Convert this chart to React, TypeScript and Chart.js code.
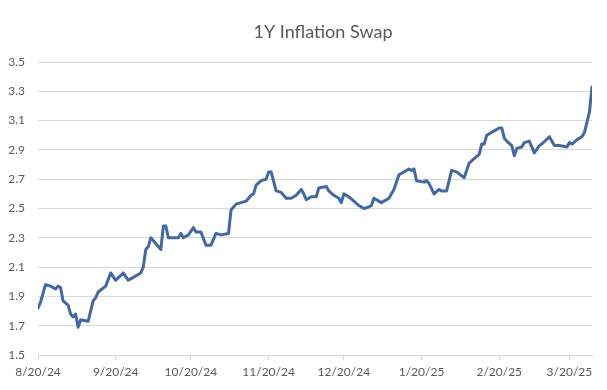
import React, { useEffect, useRef } from "react";
import { Chart, registerables } from "chart.js";

Chart.register(...registerables);

const TITLE = "1Y Inflation Swap";

const DATES = [
  "8/20/24", "8/21/24", "8/23/24", "8/25/24", "8/27/24", "8/28/24", "8/29/24", "8/30/24",
  "9/1/24", "9/2/24", "9/3/24", "9/4/24", "9/5/24", "9/6/24", "9/9/24", "9/11/24", "9/12/24",
  "9/13/24", "9/16/24", "9/18/24", "9/20/24", "9/23/24", "9/25/24", "9/27/24", "9/30/24",
  "10/1/24", "10/2/24", "10/3/24", "10/4/24", "10/8/24", "10/9/24", "10/10/24", "10/11/24",
  "10/15/24", "10/16/24", "10/17/24", "10/19/24", "10/21/24", "10/22/24", "10/24/24",
  "10/26/24", "10/28/24", "10/30/24", "11/1/24", "11/4/24", "11/5/24", "11/7/24", "11/9/24",
  "11/11/24", "11/13/24", "11/14/24", "11/15/24", "11/17/24", "11/19/24", "11/20/24",
  "11/21/24", "11/23/24", "11/25/24", "11/27/24", "11/29/24", "12/1/24", "12/3/24", "12/4/24",
  "12/5/24", "12/7/24", "12/9/24", "12/10/24", "12/13/24", "12/14/24", "12/16/24", "12/18/24",
  "12/19/24", "12/20/24", "12/22/24", "12/24/24", "12/26/24", "12/28/24", "12/30/24",
  "12/31/24", "1/1/25", "1/4/25", "1/7/25", "1/8/25", "1/9/25", "1/11/25", "1/13/25",
  "1/15/25", "1/16/25", "1/17/25", "1/18/25", "1/21/25", "1/22/25", "1/23/25", "1/25/25",
  "1/27/25", "1/28/25", "1/30/25", "2/1/25", "2/3/25", "2/6/25", "2/8/25", "2/10/25",
  "2/12/25", "2/13/25", "2/14/25", "2/15/25", "2/18/25", "2/20/25", "2/21/25", "2/22/25",
  "2/23/25", "2/25/25", "2/26/25", "2/27/25", "3/1/25", "3/2/25", "3/4/25", "3/6/25",
  "3/8/25", "3/9/25", "3/12/25", "3/14/25", "3/16/25", "3/19/25", "3/20/25", "3/21/25",
  "3/23/25", "3/25/25", "3/26/25", "3/27/25", "3/28/25", "3/29/25",
];

const VALUES = [
  1.82, 1.86, 1.98, 1.97, 1.95, 1.97, 1.96, 1.87,
  1.84, 1.78, 1.76, 1.78, 1.69, 1.74, 1.73, 1.87, 1.89,
  1.93, 1.97, 2.06, 2.01, 2.06, 2.01, 2.03, 2.06,
  2.10, 2.22, 2.24, 2.30, 2.22, 2.38, 2.38, 2.30,
  2.30, 2.33, 2.30, 2.32, 2.37, 2.34, 2.34,
  2.25, 2.25, 2.33, 2.32, 2.33, 2.49, 2.53, 2.54,
  2.55, 2.59, 2.60, 2.66, 2.69, 2.70, 2.75,
  2.75, 2.62, 2.61, 2.57, 2.57, 2.59, 2.63, 2.60,
  2.56, 2.58, 2.58, 2.64, 2.65, 2.62, 2.59, 2.57,
  2.54, 2.60, 2.58, 2.55, 2.52, 2.50, 2.51,
  2.52, 2.57, 2.54, 2.57, 2.60, 2.63, 2.73, 2.75,
  2.77, 2.76, 2.77, 2.69, 2.68, 2.69, 2.67, 2.60,
  2.63, 2.62, 2.62, 2.76, 2.75, 2.71, 2.81, 2.84,
  2.87, 2.94, 2.94, 3.00, 3.03, 3.05, 3.05, 2.98,
  2.96, 2.93, 2.86, 2.91, 2.92, 2.95, 2.96, 2.88,
  2.93, 2.94, 2.99, 2.93, 2.93, 2.92, 2.95, 2.94,
  2.97, 2.99, 3.02, 3.09, 3.16, 3.33,
];

const X_TICK_LABELS = ["8/20/24", "9/20/24", "10/20/24", "11/20/24", "12/20/24", "1/20/25", "2/20/25", "3/20/25"];
const Y_TICKS = [1.5, 1.7, 1.9, 2.1, 2.3, 2.5, 2.7, 2.9, 3.1, 3.3, 3.5];

const FONT = "Lato, 'Open Sans', sans-serif";
const TEXT_COLOR = "#595959";
const GRID_COLOR = "#d9d9d9";
const LINE_COLOR = "#4169a6";

function dayNum(s: string): number {
  const [m, d, y] = s.split("/").map(Number);
  return Date.UTC(2000 + y, m - 1, d) / 86400000;
}

const BASE = dayNum(DATES[0]);
const X_TICK_DAYS = X_TICK_LABELS.map((l) => dayNum(l) - BASE);

const titlePlugin = {
  id: "customTitle",
  afterDraw(chart: any) {
    const ctx = chart.ctx;
    ctx.save();
    ctx.font = `18px ${FONT}`;
    ctx.fillStyle = TEXT_COLOR;
    ctx.textAlign = "center";
    ctx.textBaseline = "middle";
    ctx.fillText(TITLE, 323, 32);
    ctx.restore();
  },
};

export default function App() {
  const ref = useRef<HTMLCanvasElement | null>(null);

  useEffect(() => {
    if (!ref.current) return;
    const points = DATES.map((d, i) => ({ x: dayNum(d) - BASE, y: VALUES[i] }));
    const chart = new Chart(ref.current, {
      type: "line",
      data: {
        datasets: [
          {
            data: points,
            borderColor: LINE_COLOR,
            borderWidth: 3,
            pointRadius: 0,
            tension: 0,
            borderJoinStyle: "round",
            borderCapStyle: "round",
            fill: false,
          },
        ],
      },
      options: {
        responsive: false,
        animation: false,
        layout: { padding: { top: 62, right: 15, left: 0, bottom: 0 } },
        plugins: {
          legend: { display: false },
          tooltip: { enabled: false },
          title: { display: false },
        },
        scales: {
          x: {
            type: "linear",
            min: 0,
            max: dayNum(DATES[DATES.length - 1]) - BASE,
            afterBuildTicks: (s: any) => {
              s.ticks = X_TICK_DAYS.map((v) => ({ value: v }));
            },
            afterFit: (s: any) => {
              s.height = 35;
            },
            ticks: {
              autoSkip: false,
              maxRotation: 0,
              color: TEXT_COLOR,
              font: { family: FONT, size: 12 },
              padding: 5,
              callback: (v: any) => {
                const i = X_TICK_DAYS.indexOf(Number(v));
                return i >= 0 ? X_TICK_LABELS[i] : "";
              },
            },
            grid: {
              drawOnChartArea: false,
              drawTicks: true,
              tickLength: 5,
              color: GRID_COLOR,
            },
            border: { color: GRID_COLOR, width: 1 },
          },
          y: {
            min: 1.5,
            max: 3.5,
            afterBuildTicks: (s: any) => {
              s.ticks = Y_TICKS.map((v) => ({ value: v }));
            },
            afterFit: (s: any) => {
              s.width = 38;
            },
            ticks: {
              color: TEXT_COLOR,
              font: { family: FONT, size: 12 },
              padding: 13,
              callback: (v: any) => Number(v).toFixed(1),
            },
            grid: { color: GRID_COLOR, drawTicks: false, lineWidth: 1 },
            border: { display: false },
          },
        },
      },
      plugins: [titlePlugin],
    } as any);
    return () => chart.destroy();
  }, []);

  return (
    <div style={{ position: "fixed", left: 0, top: 0, width: 607, height: 390, background: "#fff" }}>
      <canvas ref={ref} width={607} height={390} style={{ display: "block" }} />
    </div>
  );
}
